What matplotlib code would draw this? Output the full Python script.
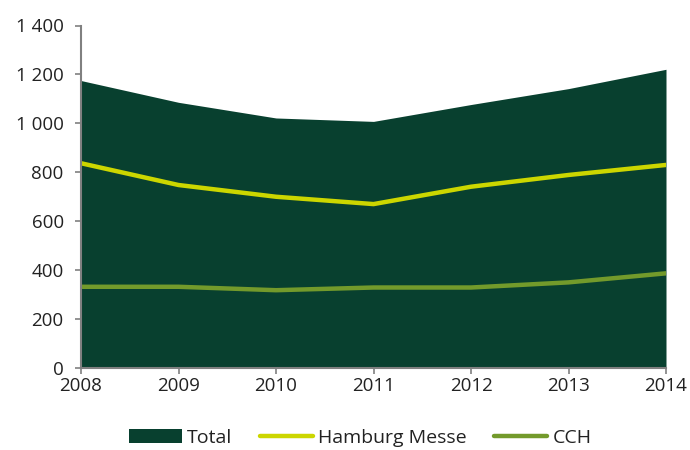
import matplotlib
matplotlib.use("Agg")
import matplotlib.pyplot as plt
from matplotlib.ticker import FuncFormatter
from matplotlib.patches import Patch
from matplotlib.lines import Line2D

years = [2008, 2009, 2010, 2011, 2012, 2013, 2014]
total = [1175, 1086, 1022, 1008, 1077, 1142, 1221]
hamburg_messe = [837, 748, 700, 670, 741, 789, 830]
cch = [332, 332, 318, 329, 329, 350, 387]
yticks = [0, 200, 400, 600, 800, 1000, 1200, 1400]

plt.rcParams['font.family'] = ['Open Sans', 'DejaVu Sans']

c_total = '#08402f'
c_hm = '#ccd600'
c_cch = '#739a2b'
c_axis = '#808080'
c_text = '#222222'

fig = plt.figure(figsize=(6.9, 4.5), dpi=100)
ax = fig.add_axes([81/690, 1 - 368/450, (666-81)/690, (368-25.5)/450])

ax.fill_between(years, 0, total, color=c_total, linewidth=0, zorder=1)
ax.plot(years, hamburg_messe, color=c_hm, linewidth=3.2, solid_capstyle='round', zorder=3)
ax.plot(years, cch, color=c_cch, linewidth=3.2, solid_capstyle='round', zorder=3)

ax.set_xlim(years[0], years[-1])
ax.set_ylim(0, 1400)
ax.set_xticks(years)
ax.set_yticks(yticks)
ax.yaxis.set_major_formatter(FuncFormatter(lambda v, p: f"{int(v):,}".replace(",", " ")))

for s in ['top', 'right']:
    ax.spines[s].set_visible(False)
for s in ['left', 'bottom']:
    ax.spines[s].set_color(c_axis)
    ax.spines[s].set_linewidth(1.5)
    ax.spines[s].set_zorder(4)
ax.tick_params(axis='both', colors=c_axis, labelcolor=c_text, labelsize=13.5, length=4.5, width=1.2, direction='out')
ax.tick_params(axis='y', pad=8)
ax.tick_params(axis='x', pad=2)

handles = [Patch(facecolor=c_total, edgecolor='none'),
           Line2D([0], [0], color=c_hm, linewidth=3.2, solid_capstyle='round'),
           Line2D([0], [0], color=c_cch, linewidth=3.2, solid_capstyle='round')]
labels = ['Total', 'Hamburg Messe', 'CCH']
fig.legend(handles, labels, loc='center', bbox_to_anchor=(360/690, 1 - 438/450), ncol=3, frameon=False,
           fontsize=14, handlelength=2.75, handletextpad=0.26, columnspacing=1.4, labelcolor=c_text,
           borderpad=0)

fig.savefig('out.png', dpi=100)
